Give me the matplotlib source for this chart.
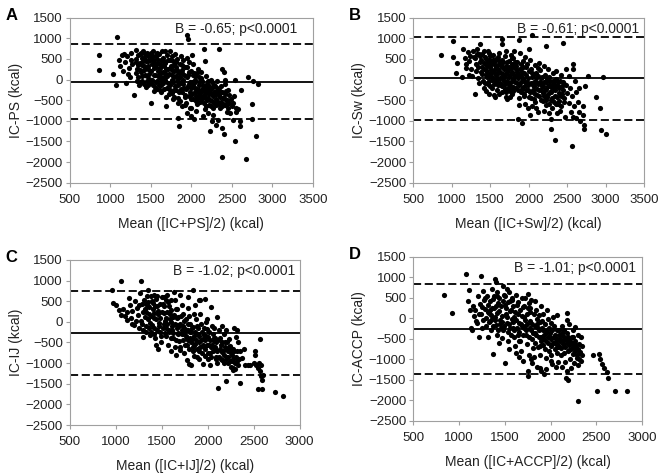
import matplotlib
matplotlib.use("Agg")
import matplotlib.pyplot as plt

plt.rcParams['font.family'] = ['Liberation Sans', 'DejaVu Sans']

# Bland-Altman style panels: mean of two methods vs difference (kcal)
pts_a = [
    (1075, 1030), (860, 590), (855, 230), (1035, 130), (1064, -120), (1100, 480), (1120, 330), (1140, 600),
    (1160, 200), (1180, 420), (1190, -80), (1210, 560), (1230, 280), (1240, 50), (1260, 650), (1270, 380),
    (1290, -370), (1250, 470), (1220, 130), (1170, 610),
    (1310, 720), (1320, 500), (1330, 260), (1340, 60), (1350, -120), (1360, 610), (1370, 400), (1380, 180),
    (1390, -40), (1400, 700), (1410, 530), (1420, 330), (1430, 120), (1440, -180), (1450, 640), (1460, 450),
    (1470, 250), (1480, 20), (1490, -90), (1500, -577), (1500, 560), (1510, 380), (1320, 150), (1360, -60),
    (1400, 440), (1440, 300), (1470, 580), (1380, 650), (1420, -100), (1450, 90),
    (1520, 700), (1530, 470), (1540, 290), (1550, 120), (1560, -60), (1570, -230), (1580, 640), (1590, 400),
    (1600, 210), (1610, 40), (1620, -140), (1630, -300), (1640, 690), (1650, 520), (1660, 330), (1670, 160),
    (1680, -20), (1690, -634), (1700, -200), (1700, 600), (1530, -120), (1560, 560), (1590, 90), (1620, 480),
    (1650, -80), (1680, 390), (1710, 250), (1720, -360), (1550, 350), (1610, 270), (1640, -40), (1670, 700),
    (1580, -30), (1660, 60),
    (1730, 680), (1740, 470), (1750, 300), (1760, 120), (1770, -60), (1780, -250), (1790, -420), (1800, 620),
    (1810, 420), (1820, 230), (1830, 40), (1840, -140), (1850, -310), (1860, -520), (1870, 560), (1880, 350),
    (1890, 160), (1900, -20), (1910, -200), (1920, -380), (1850, -1118), (1837, -932), (1880, -650), (1760, 560),
    (1790, 210), (1820, -30), (1850, 150), (1740, -120), (1900, 470), (1780, 360), (1830, -440), (1870, -80),
    (1760, -330), (1810, 80), (1890, -300),
    (1940, 1080), (1960, 970), (1930, -560), (1940, 520), (1950, 300), (1960, 100), (1970, -100), (1980, -300),
    (1990, -480), (2000, -700), (2010, 600), (2020, 380), (2030, 170), (2040, -20), (2050, -200), (2060, -390),
    (2035, -949), (2070, -600), (2080, 250), (2090, 50), (2100, -130), (2100, -330), (1950, -800), (1990, -880),
    (2000, 200), (2020, -150), (2050, 80), (2070, -480), (1970, 420), (2090, -250), (2010, -50), (2060, -750),
    (2158, 750), (2167, 460), (2120, 180), (2130, -30), (2140, -210), (2150, -380), (2160, -560), (2170, -720),
    (2180, 90), (2190, -100), (2200, -280), (2210, -450), (2220, -620), (2230, -200), (2240, -20), (2250, -360),
    (2260, -530), (2270, -700), (2280, -120), (2290, -290), (2300, -460), (2249, -997), (2228, -1256), (2140, -880),
    (2200, -820), (2270, -850), (2190, -500), (2250, -50), (2300, -620), (2120, -400), (2220, -150), (2180, -320),
    (2339, 750), (2380, 255), (2400, 175), (2310, -1094), (2380, -1175), (2400, -1320), (2330, -973), (2320, -200),
    (2340, -380), (2360, -540), (2380, -300), (2400, -450), (2410, -620), (2420, -100), (2430, -280), (2440, -490),
    (2434, -787), (2460, -380), (2470, -560), (2475, -811), (2490, -460), (2500, -650), (2350, -700), (2320, -30),
    (2450, -700), (2380, -1886), (2410, 0), (2360, -150),
    (2537, -20), (2557, -787), (2516, -989), (2537, -1482), (2600, -1013), (2600, -1134), (2607, -246),
    (2669, -1926), (2700, 53), (2743, -585), (2743, -957), (2763, -27), (2796, -1377), (2825, -108),
    (2520, -560), (2550, -700), (2580, -720), (2530, -400),
    (1315, 420), (1335, 590), (1345, 350), (1365, 230), (1385, 520), (1395, 90), (1415, 220), (1425, 610),
    (1435, 460), (1455, -30), (1465, 340), (1475, 130), (1485, 480), (1495, 650), (1505, 200), (1515, -20),
    (1525, 560), (1535, 120), (1545, 410), (1555, -180), (1565, 300), (1575, 500), (1585, 200), (1595, -130),
    (1605, 610), (1615, 140), (1625, 350), (1635, 30), (1645, 450), (1655, 190), (1665, -230), (1675, 430),
    (1685, 250), (1695, 80), (1705, -80), (1715, 480), (1725, 130), (1735, -250), (1745, 340), (1755, -20),
    (1765, 230), (1775, 450), (1785, 60), (1795, -150), (1805, 300), (1815, -250), (1825, 500), (1835, 180),
    (1845, -50), (1855, 380), (1865, 70), (1875, -220), (1885, 240), (1895, -100), (1905, 120), (1915, -420),
    (1925, 300), (1935, -230), (1945, 60), (1955, -160), (1965, -400), (1975, 190), (1985, -50), (1995, -200),
    (2005, -350), (2015, 120), (2025, -480), (2035, -80), (2045, -300), (2055, -520), (2065, 150), (2075, -220),
    (2085, -420), (2095, -60), (2105, -550), (2115, 30), (2125, -280), (2135, -470), (2145, -120), (2155, -250),
    (2165, -420), (2175, -160), (2185, -640), (2195, -250), (2205, -30), (2215, -350), (2225, -500), (2235, -300),
    (2245, -650), (2255, -200), (2265, -400), (2275, -300), (2285, -560), (2295, -150), (2305, -350), (2315, -520),
    (2325, -280), (2335, -600), (2345, -250), (2355, -420), (2365, -300), (2375, -650), (2385, -450), (2395, -580),
    (2415, -350), (2425, -500), (2445, -600), (2455, -250), (1330, -40), (1390, 350), (1460, -130), (1540, -280),
    (1610, -250), (1690, -420), (1770, -480), (1840, -560), (1920, -620), (1980, -700),
]

pts_b = [
    (862, 587), (1019, 926), (1011, 546), (1066, 401), (1053, 158), (1138, 61), (1300, -351), (1372, 869),
    (1649, 990), (1649, 869), (1870, 966), (2040, 1088), (2223, 821), (2445, 886),
    (1150, 750), (1170, 520), (1190, 380), (1210, 660), (1230, 450), (1250, 250), (1260, 80), (1280, 700),
    (1290, 540), (1310, 380), (1320, 200), (1340, 40), (1350, 620), (1360, -80), (1380, 470), (1390, 300),
    (1400, 140), (1410, -30), (1420, 700), (1180, 270), (1240, 580), (1330, 730), (1370, 560), (1220, 100),
    (1430, 550), (1440, 380), (1450, 220), (1460, 60), (1470, -110), (1480, 640), (1490, 470), (1500, 300),
    (1510, 150), (1520, -20), (1530, -200), (1540, 590), (1550, 420), (1560, 260), (1570, 100), (1580, -60),
    (1590, -250), (1600, 540), (1610, 370), (1620, 200), (1630, 40), (1450, -280), (1500, -160), (1550, -380),
    (1470, 700), (1520, 450), (1580, 330), (1600, -120), (1440, 120), (1560, -10), (1490, 80), (1610, 650),
    (1640, -130), (1650, 480), (1660, 300), (1670, 130), (1680, -40), (1690, -220), (1700, -420), (1710, 700),
    (1720, 420), (1730, 240), (1740, 70), (1750, -100), (1760, -280), (1770, 600), (1780, 370), (1790, 190),
    (1800, 20), (1650, -300), (1720, -480), (1780, -350), (1800, 520), (1690, 560), (1740, 310), (1770, -190),
    (1660, 30), (1710, 130), (1800, -180),
    (1810, 700), (1820, 430), (1830, 250), (1840, 80), (1850, -90), (1860, -260), (1862, -957), (1880, -440),
    (1890, 640), (1900, 380), (1910, 190), (1913, -1054), (1920, 10), (1930, -170), (1940, -350), (1950, 550),
    (1960, 300), (1970, 110), (1980, -70), (1990, -250), (2000, -430), (2000, 740), (1870, -620), (1950, -580),
    (1990, -700), (1840, 340), (1930, 450), (1960, -120), (1900, -300), (1880, 100),
    (2020, 470), (2030, 260), (2040, 60), (2050, -120), (2060, -300), (2070, -480), (2080, 350), (2090, 150),
    (2100, -50), (2110, -230), (2117, -787), (2130, -400), (2140, 400), (2150, 230), (2160, 40), (2170, -150),
    (2180, -330), (2190, -520), (2202, -755), (2040, -640), (2100, -700), (2020, -850), (2070, 130), (2150, -80),
    (2200, 330), (2080, -350), (2120, 280),
    (2210, 120), (2220, -60), (2230, -240), (2240, -430), (2250, 250), (2260, 70), (2270, -120), (2280, -300),
    (2290, -500), (2296, -957), (2296, -1199), (2338, -1474), (2300, -700), (2310, 150), (2320, -40), (2330, -220),
    (2340, -400), (2350, -600), (2360, 10), (2380, -150), (2390, -330), (2400, -520), (2410, -760), (2420, 100),
    (2440, -60), (2450, -250), (2460, -450), (2470, -900), (2480, 250), (2490, -120), (2500, -330), (2230, -620),
    (2260, -820), (2370, -800), (2420, -640), (2350, 200), (2430, -350),
    (2520, -560), (2540, -200), (2560, -400), (2576, 385), (2576, 255), (2564, -1603), (2590, -650), (2600, -40),
    (2620, -300), (2640, -550), (2670, -1013), (2704, -650), (2704, -852), (2713, -1094), (2713, -1199),
    (2734, -165), (2776, 94), (2870, -431), (2925, -690), (2934, -1215), (2968, 61), (3010, -1320),
    (2550, -780), (2610, -930), (2650, -200), (2530, 80), (2580, -900), (2660, -780),
    (1305, 520), (1325, 620), (1345, 300), (1365, 430), (1385, 180), (1395, 620), (1415, 400), (1425, 250),
    (1435, -80), (1445, 500), (1455, 330), (1465, 180), (1475, 410), (1485, -40), (1495, 570), (1505, 220),
    (1515, 380), (1525, 60), (1535, 480), (1545, 180), (1555, -100), (1565, 350), (1575, 500), (1585, 140),
    (1595, -20), (1605, 250), (1615, 460), (1625, -80), (1635, 350), (1645, 150), (1655, -150), (1665, 420),
    (1675, 250), (1685, 60), (1695, -100), (1705, 320), (1715, -30), (1725, 180), (1735, -200), (1745, 450),
    (1755, 100), (1765, 270), (1775, -60), (1785, 520), (1795, -280), (1805, 120), (1815, 300), (1825, -50),
    (1835, -200), (1845, 180), (1855, 420), (1865, 30), (1875, -120), (1885, 260), (1895, -60), (1905, 80),
    (1915, -220), (1925, 300), (1935, -400), (1945, 150), (1955, -60), (1965, -250), (1975, 380), (1985, 30),
    (1995, -120), (2005, 200), (2015, -300), (2025, -80), (2035, -450), (2045, 150), (2055, -250), (2065, -50),
    (2075, -150), (2085, -550), (2095, 40), (2105, -380), (2115, -100), (2125, 80), (2135, -250), (2145, -50),
    (2155, -500), (2165, -250), (2175, 50), (2185, -150), (2195, -400), (2205, -50), (2215, -250), (2225, -500),
    (2235, 20), (2245, -150), (2255, -350), (2265, -600), (2275, -40), (2285, -180), (2295, -300), (2305, -450),
    (2315, -100), (2325, -550), (2335, -50), (2345, -250), (2355, -150), (2365, -420), (2375, -60), (2385, -600),
    (2395, -200), (2405, -30), (2415, -400), (2435, -150), (2455, -550), (2465, -100), (1420, -200), (1480, -350),
    (1560, -420), (1620, -350), (1700, -300), (1760, -420),
]

pts_c = [
    (953, 781), (1054, 983), (1272, 983), (1351, 781), (971, 466), (996, 402), (1036, 280), (1840, 765),
    (1913, 523), (1967, 547), (2565, -406), (2112, -1594), (2196, -1440), (2355, -1480), (2547, -1635),
    (2594, -1619), (2728, -1700), (2819, -1796), (2583, -1319), (2594, -1416), (2511, -713), (2511, -810),
    (1060, 160), (1080, 300), (1100, 140), (1120, 230), (1140, 580), (1150, 400), (1160, 100), (1180, 260),
    (1200, -70), (1210, 500), (1230, 340), (1240, 170), (1260, 690), (1270, 20), (1280, 420), (1290, -200),
    (1300, 250), (1300, -370), (1120, 50), (1180, -60), (1250, -150),
    (1310, 520), (1320, 110), (1330, -100), (1340, 630), (1350, 380), (1360, 200), (1370, -30), (1380, -250),
    (1390, 500), (1400, 300), (1410, 100), (1420, -140), (1430, -380), (1440, 560), (1450, 380), (1460, 180),
    (1470, -20), (1480, -250), (1490, -500), (1500, 600), (1330, 420), (1410, 650), (1370, -320), (1440, -560),
    (1460, -650), (1350, 70), (1420, 220),
    (1510, 420), (1520, 220), (1530, 30), (1540, -160), (1550, -350), (1560, 640), (1570, -560), (1580, 380),
    (1590, 180), (1600, -10), (1610, -190), (1620, -390), (1630, 720), (1640, 520), (1650, 300), (1660, 100),
    (1670, -80), (1680, -270), (1690, -460), (1700, -680), (1540, 540), (1600, -700), (1650, -800), (1520, -50),
    (1580, -250), (1620, 110), (1660, -150), (1560, 250), (1700, 650), (1640, -600), (1680, 120), (1700, -50),
    (1720, 400), (1730, 200), (1740, 10), (1750, -170), (1760, -350), (1770, -550), (1770, -930), (1780, 600),
    (1790, 330), (1800, 130), (1810, -60), (1820, -240), (1830, -420), (1840, -620), (1850, -820), (1860, 400),
    (1870, 80), (1880, -100), (1890, -300), (1900, -500), (1900, -700), (1800, -1020), (1820, -1050),
    (1740, -750), (1760, 60), (1790, -450), (1850, 200), (1880, -850), (1720, -300), (1840, -120), (1810, -380),
    (1780, -200), (1860, -540), (1900, 520),
    (1920, 200), (1930, -50), (1940, -240), (1950, -420), (1960, -620), (1970, -820), (1980, 0), (1990, -180),
    (2000, -360), (2010, -550), (2020, -750), (2020, -1050), (2040, 370), (2050, -100), (2060, -290),
    (2070, -470), (2080, -650), (2090, -850), (2100, 120), (2100, -1000), (1950, -1020), (2000, -900),
    (1990, 80), (2070, -160), (2030, -620), (1960, -320), (1910, -900), (2080, -380),
    (2120, -200), (2130, -380), (2140, -560), (2150, -740), (2160, -920), (2180, -300), (2190, -480),
    (2200, -660), (2210, -850), (2220, -1000), (2230, -420), (2240, -580), (2250, -760), (2260, -940),
    (2270, -1120), (2280, -650), (2290, -150), (2300, -1150), (2310, -370), (2320, -200), (2320, -700),
    (2340, -900), (2350, -700), (2390, -660), (2400, -1050), (2440, -1040), (2460, -1050), (2200, -200),
    (2150, -100), (2250, -1100), (2330, -500), (2370, -880), (2280, -1160), (2180, -1000),
    (2500, -1000), (2530, -1050), (2550, -1120), (2570, -1200), (2600, -1280), (2560, -1000), (2580, -1050),
    (1315, 300), (1325, -250), (1345, 480), (1355, -150), (1365, 350), (1385, 150), (1395, -80), (1405, 450),
    (1415, -300), (1425, 380), (1435, 60), (1445, -200), (1455, 260), (1465, -100), (1475, 420), (1485, 100),
    (1495, -350), (1505, 240), (1515, -150), (1525, 380), (1535, -280), (1545, 100), (1555, -50), (1565, 480),
    (1575, -200), (1585, 60), (1595, -400), (1605, 280), (1615, -100), (1625, -280), (1635, 160), (1645, -50),
    (1655, -450), (1665, 300), (1675, -300), (1685, -100), (1695, -600), (1705, 150), (1715, -200), (1725, -450),
    (1735, -100), (1745, -300), (1755, -550), (1765, -200), (1775, -400), (1785, -50), (1795, -650), (1805, -250),
    (1815, -500), (1825, -150), (1835, -700), (1845, -350), (1855, -550), (1865, -250), (1875, -450), (1885, -650),
    (1895, -150), (1905, -350), (1915, -600), (1925, -450), (1935, -750), (1945, -550), (1955, -150), (1965, -450),
    (1975, -650), (1985, -350), (1995, -550), (2005, -750), (2015, -250), (2025, -450), (2035, -850), (2045, -550),
    (2055, -700), (2065, -400), (2075, -600), (2085, -900), (2095, -500), (2105, -700), (2115, -450), (2125, -850),
    (2135, -650), (2145, -900), (2155, -500), (2165, -700), (2175, -800), (2185, -600), (2195, -900), (2205, -500),
    (2215, -700), (2225, -850), (2235, -600), (2245, -950), (2255, -650), (2265, -800), (2275, -900), (2285, -700),
    (2295, -1000), (2305, -850), (2315, -950), (2325, -1050), (1250, 400), (1280, -50), (1330, 250), (1220, 30),
    (1380, 620), (1450, 620), (1520, 600), (1600, 520),
]

pts_d = [
    (838, 557), (929, 126), (1082, 1077), (1239, 1020), (1392, 964), (1111, 695), (1100, 411), (1373, -874),
    (1500, -1093), (1755, -1297), (1755, -1402), (1900, -1280), (1925, -1360), (2181, -1280), (2167, -1459),
    (2192, -1500), (2294, -2028), (2512, -1784), (2702, -1768), (2836, -1784),
    (2465, -906), (2527, -874), (2545, -988), (2563, -1118), (2582, -1215), (2611, -1313), (2629, -1459),
    (2065, 69), (2174, 126), (2181, -36), (2265, -223), (2330, -467), (2338, -687),
    (1120, 200), (1140, -300), (1150, 300), (1160, 60), (1180, 200), (1200, -120), (1210, 540), (1220, -450),
    (1230, 350), (1240, 100), (1250, -250), (1260, 650), (1270, 430), (1280, 220), (1290, 0), (1300, -200),
    (1130, -230), (1190, -80), (1250, 280),
    (1310, 540), (1320, 330), (1330, 130), (1340, -80), (1350, -290), (1360, 700), (1370, 460), (1380, 250),
    (1390, 40), (1400, -170), (1410, -400), (1420, 640), (1430, 380), (1440, 170), (1450, -40), (1460, -250),
    (1470, -480), (1480, 780), (1490, 560), (1500, 320), (1320, -450), (1360, -10), (1410, 550), (1440, -600),
    (1480, -300), (1400, 880), (1340, 210),
    (1510, 100), (1520, -120), (1530, -330), (1540, -560), (1550, 640), (1560, 420), (1570, 200), (1580, -20),
    (1590, -240), (1600, -450), (1610, -670), (1620, 560), (1630, 330), (1640, 110), (1650, -110), (1660, -330),
    (1670, -550), (1680, -800), (1690, 500), (1700, 270), (1550, -750), (1620, -850), (1520, 700), (1580, 500),
    (1640, -420), (1600, 30), (1700, -1050), (1660, -950), (1690, -200), (1560, -250),
    (1710, 40), (1720, -180), (1730, -400), (1740, -620), (1750, 600), (1760, 370), (1770, 150), (1780, -70),
    (1790, -290), (1800, -510), (1810, -730), (1820, -950), (1830, 420), (1840, 200), (1850, -20), (1860, -240),
    (1870, -460), (1880, -680), (1890, -900), (1900, 300), (1760, -900), (1800, -1100), (1850, -1200),
    (1880, -1220), (1720, 500), (1790, -1000), (1740, 110), (1830, -350), (1870, 80), (1900, -550), (1780, 250),
    (1910, -80), (1920, -300), (1930, -520), (1940, -750), (1950, -980), (1960, 200), (1970, -20), (1980, -240),
    (1990, -460), (2000, -680), (2010, -900), (2020, -1120), (2030, 40), (2040, -180), (2050, -400),
    (2060, -620), (2070, -840), (2080, -1060), (2090, -300), (2100, -500), (1950, -1250), (2000, -1050),
    (2060, -1180), (1920, 100), (2000, -130), (2080, -700), (1970, -600),
    (2110, -720), (2120, -200), (2130, -420), (2140, -640), (2150, -860), (2160, -1080), (2180, -350),
    (2190, -560), (2200, -780), (2210, -1000), (2220, -1220), (2230, -450), (2240, -660), (2250, -880),
    (2260, -1100), (2270, -550), (2280, -760), (2290, -980), (2300, -1150), (2310, -620), (2320, -820),
    (2330, -1050), (2340, -900), (2200, -150), (2150, -300), (2250, -300), (2300, -400), (2120, -1200),
    (1315, 150), (1325, -100), (1335, 420), (1355, 80), (1365, 250), (1375, -200), (1385, 550), (1395, -50),
    (1405, 300), (1415, 120), (1425, -300), (1435, 480), (1445, -150), (1455, 300), (1465, 60), (1475, -100),
    (1485, 420), (1495, -200), (1505, 550), (1515, 240), (1525, 20), (1535, 400), (1545, -150), (1555, 180),
    (1565, -400), (1575, 450), (1585, -100), (1595, 300), (1605, -300), (1615, 150), (1625, -50), (1635, -250),
    (1645, 400), (1655, -550), (1665, 200), (1675, -150), (1685, 50), (1695, -400), (1705, -250), (1715, 300),
    (1725, -50), (1735, -300), (1745, -150), (1755, 250), (1765, -450), (1775, -250), (1785, 450), (1795, -150),
    (1805, -350), (1815, 100), (1825, -200), (1835, -600), (1845, -400), (1855, -150), (1865, -700), (1875, -300),
    (1885, -100), (1895, -450), (1905, -250), (1915, -650), (1925, -400), (1935, -150), (1945, -350), (1955, -550),
    (1965, -300), (1975, -450), (1985, -800), (1995, -350), (2005, -500), (2015, -300), (2025, -600), (2035, -450),
    (2045, -750), (2055, -550), (2065, -300), (2075, -500), (2085, -650), (2095, -400), (2105, -550), (2115, -900),
    (2125, -350), (2135, -550), (2145, -450), (2155, -700), (2165, -500), (2175, -600), (2185, -800), (2195, -450),
    (2205, -650), (2215, -550), (2225, -750), (2235, -600), (2245, -450), (2255, -700), (2265, -800), (2275, -650),
    (2285, -900), (2295, -750), (2305, -850), (2315, -1000), (1260, -50), (1220, 100), (1280, 480),
]

# mean bias and limits of agreement (upper, bias, lower)
lines_a = (850, -50, -950)
lines_b = (1030, 30, -970)
lines_c = (735, -280, -1295)
lines_d = (825, -265, -1360)

letters = ['A', 'B', 'C', 'D']
ylabels = ['IC-PS (kcal)', 'IC-Sw (kcal)', 'IC-IJ (kcal)', 'IC-ACCP (kcal)']
xlabels = ['Mean ([IC+PS]/2) (kcal)', 'Mean ([IC+Sw]/2) (kcal)',
           'Mean ([IC+IJ]/2) (kcal)', 'Mean ([IC+ACCP]/2) (kcal)']
notes = ['B = -0.65; p<0.0001', 'B = -0.61; p<0.0001',
         'B = -1.02; p<0.0001', 'B = -1.01; p<0.0001']
xmaxes = [3500, 3500, 3000, 3000]

fig = plt.figure(figsize=(6.6, 4.76), dpi=100)
boxes = [
    [0.106, 0.616, 0.368, 0.347],
    [0.626, 0.616, 0.350, 0.347],
    [0.106, 0.107, 0.348, 0.347],
    [0.626, 0.116, 0.347, 0.345],
]
all_pts = [pts_a, pts_b, pts_c, pts_d]
all_lines = [lines_a, lines_b, lines_c, lines_d]
note_margin = [0.065, 0.02, 0.02, 0.025]

for i in range(4):
    ax = fig.add_axes(boxes[i])
    xs = [p[0] for p in all_pts[i]]
    ys = [p[1] for p in all_pts[i]]
    up, mid, low = all_lines[i]
    ax.axhline(up, color='black', lw=1.3, ls=(0, (4.5, 2)), zorder=1)
    ax.axhline(mid, color='black', lw=1.3, zorder=1)
    ax.axhline(low, color='black', lw=1.3, ls=(0, (4.5, 2)), zorder=1)
    ax.scatter(xs, ys, s=14, color='black', linewidths=0, zorder=2)

    ax.set_xlim(500, xmaxes[i])
    ax.set_ylim(-2500, 1500)
    ax.set_xticks(range(500, xmaxes[i] + 1, 500))
    ax.set_yticks(range(-2500, 1501, 500))
    for side in ['left', 'bottom', 'right', 'top']:
        ax.spines[side].set_color('#a0a0a0')
        ax.spines[side].set_linewidth(0.8)
    ax.tick_params(direction='out', length=3, width=0.8, color='#a0a0a0',
                   labelsize=9.5, labelcolor='#222222', pad=2)
    ax.tick_params(axis='x', pad=5)
    ax.tick_params(top=False, right=False)
    ax.set_xlabel(xlabels[i], fontsize=10, color='#222222', labelpad=8)
    ax.set_ylabel(ylabels[i], fontsize=10, color='#222222', labelpad=2)
    ax.text(1 - note_margin[i], 0.93, notes[i], transform=ax.transAxes,
            ha='right', va='center', fontsize=10, color='#222222')
    fig.text(boxes[i][0] - 0.098, boxes[i][1] + boxes[i][3] + 0.005, letters[i],
             fontsize=12, fontweight='bold', ha='left', va='center')

fig.savefig('out.png', dpi=100)
